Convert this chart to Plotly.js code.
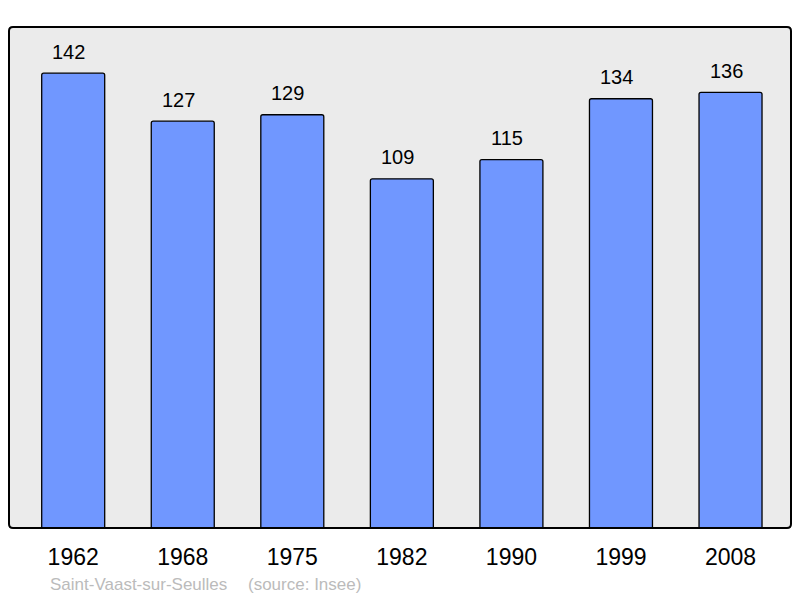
<!DOCTYPE html>
<html>
<head>
<meta charset="utf-8">
<script src="https://cdn.plot.ly/plotly-3.0.1.min.js"></script>
<style>html,body{margin:0;padding:0;background:#fff}#chart{width:800px;height:598px}</style>
</head>
<body>
<div id="chart"></div>
<script>
const years = ["1962", "1968", "1975", "1982", "1990", "1999", "2008"];
const population = [142, 127, 129, 109, 115, 134, 136];
const commune = "Saint-Vaast-sur-Seulles";
const source = "(source: Insee)";

const W = 782, H = 501;
const rx = 4 / W, ry = 4 / H;
const framePath = `M ${rx},0 L ${1 - rx},0 Q 1,0 1,${ry} L 1,${1 - ry} Q 1,1 ${1 - rx},1 L ${rx},1 Q 0,1 0,${1 - ry} L 0,${ry} Q 0,0 ${rx},0 Z`;

const trace = {
  type: 'bar',
  x: years,
  y: population,
  width: 0.575,
  marker: { color: '#7097ff', line: { color: '#000', width: 1.3 }, cornerradius: 2 },
  hoverinfo: 'none'
};

const valueLabels = years.map((yr, i) => ({
  x: i, y: population[i], xref: 'x', yref: 'y',
  text: String(population[i]), showarrow: false,
  yanchor: 'middle', yshift: 21.5, xshift: -4.5,
  font: { family: 'Liberation Sans, Arial, sans-serif', size: 20, color: '#000' }
}));

const layout = {
  width: 800, height: 598,
  margin: { l: 9, r: 9, t: 27, b: 70 },
  paper_bgcolor: '#fff',
  plot_bgcolor: '#ebebeb',
  showlegend: false,
  bargap: 0.4,
  xaxis: {
    type: 'category',
    range: [-0.586, 6.552],
    showgrid: false, zeroline: false, showline: false,
    ticks: '',
    tickfont: { family: 'Liberation Sans, Arial, sans-serif', size: 23, color: '#000' },
    ticklabelstandoff: 13,
    fixedrange: true
  },
  yaxis: {
    range: [0, 156.4],
    showgrid: false, zeroline: false, showline: false,
    showticklabels: false, ticks: '',
    fixedrange: true
  },
  shapes: [{
    type: 'path', xref: 'paper', yref: 'paper', path: framePath,
    line: { color: '#000', width: 2 }, fillcolor: 'rgba(0,0,0,0)', layer: 'above'
  }],
  annotations: valueLabels.concat([
    { xref: 'paper', yref: 'paper', x: (48 - 9) / W, y: -(584 - 528) / H, xanchor: 'left', yanchor: 'middle',
      text: commune, showarrow: false,
      font: { family: 'Liberation Sans, Arial, sans-serif', size: 17, color: '#bbbbbb' } },
    { xref: 'paper', yref: 'paper', x: (246 - 9) / W, y: -(584 - 528) / H, xanchor: 'left', yanchor: 'middle',
      text: source, showarrow: false,
      font: { family: 'Liberation Sans, Arial, sans-serif', size: 17, color: '#bbbbbb' } }
  ])
};

Plotly.newPlot('chart', [trace], layout, { displayModeBar: false, staticPlot: true });
</script>
</body>
</html>
